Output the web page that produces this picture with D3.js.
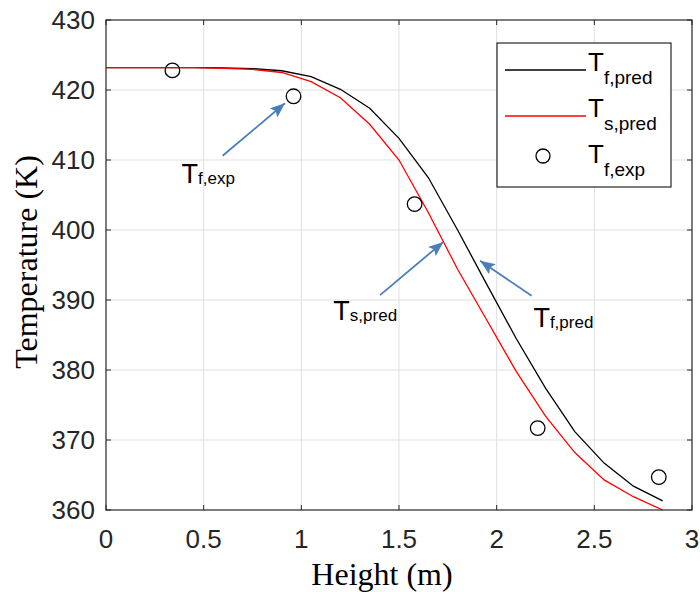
<!DOCTYPE html>
<html>
<head>
<meta charset="utf-8">
<script src="https://cdn.jsdelivr.net/npm/d3@7"></script>
<style>
	body { margin: 0; background: #fff; }
	svg { display: block; }
	.tick-label { font-family: Arial, 'Liberation Sans', sans-serif; font-size: 26px; fill: #262626; }
	.axis-title { font-family: 'Times New Roman', 'Liberation Serif', serif; font-size: 32px; fill: #000; }
	.grid line { stroke: #dfdfdf; stroke-width: 1; }
	.ann text, .legend text { font-family: Arial, 'Liberation Sans', sans-serif; fill: #000; }
</style>
</head>
<body>
<div id="graphic"></div>
<script>

// data
var heights = [0, 0.15, 0.3, 0.45, 0.6, 0.75, 0.9, 1.05, 1.2, 1.35, 1.5, 1.65, 1.8, 1.95, 2.1, 2.25, 2.4, 2.55, 2.7, 2.85];
var tfPred = [423.2, 423.2, 423.2, 423.2, 423.15, 423.05, 422.75, 421.9, 420.1, 417.4, 413.1, 407.5, 400.0, 392.2, 384.5, 377.4, 371.2, 366.7, 363.4, 361.3];
var tsPred = [423.2, 423.2, 423.2, 423.2, 423.1, 422.95, 422.5, 421.2, 418.9, 415.1, 410.0, 402.5, 394.4, 387.1, 379.8, 373.4, 368.2, 364.3, 361.9, 360.0];
var expHeights = [0.34, 0.96, 1.58, 2.21, 2.83];
var tfExp = [422.8, 419.1, 403.7, 371.7, 364.7];

var xTicks = [0, 0.5, 1, 1.5, 2, 2.5, 3];
var yTicks = [360, 370, 380, 390, 400, 410, 420, 430];

var legendItems = [
	{main: 'T', sub: 'f,pred', kind: 'line', color: '#000'},
	{main: 'T', sub: 's,pred', kind: 'line', color: '#ff0000'},
	{main: 'T', sub: 'f,exp', kind: 'circle', color: '#000'}
];

// arrow annotations in data units: tail -> head, plus label position
var arrows = [
	{label: 'f,exp', from: [0.597, 410.6], to: [0.916, 418.1], text: [0.387, 406.7]},
	{label: 's,pred', from: [1.403, 390.7], to: [1.727, 398.3], text: [1.164, 387.1]},
	{label: 'f,pred', from: [2.179, 390.6], to: [1.915, 395.6], text: [2.188, 386.1]}
];

renderGraphic();

function renderGraphic() {

	var width = 700, height = 592;
	var margins = {top: 20, right: 8, bottom: 82, left: 106};
	var chartWidth = width - margins.left - margins.right;
	var chartHeight = height - margins.top - margins.bottom;

	var svg = d3.select('#graphic').append('svg')
		.attr('width', width)
		.attr('height', height);

	var chartElement = svg.append('g')
		.attr('transform', 'translate(' + margins.left + ',' + margins.top + ')');

	var x = d3.scaleLinear().domain([0, 3]).range([0, chartWidth]);
	var y = d3.scaleLinear().domain([360, 430]).range([chartHeight, 0]);

	// 1. grid
	var grid = chartElement.append('g').attr('class', 'grid');
	grid.selectAll('line.gx')
		.data(xTicks.slice(1, -1)).enter()
		.append('line')
		.attr('x1', function(d) { return x(d); })
		.attr('x2', function(d) { return x(d); })
		.attr('y1', 0).attr('y2', chartHeight);
	grid.selectAll('line.gy')
		.data(yTicks.slice(1, -1)).enter()
		.append('line')
		.attr('y1', function(d) { return y(d); })
		.attr('y2', function(d) { return y(d); })
		.attr('x1', 0).attr('x2', chartWidth);

	// 2. lines
	var line = d3.line()
		.x(function(d) { return x(d[0]); })
		.y(function(d) { return y(d[1]); });

	chartElement.append('path')
		.datum(d3.zip(heights, tfPred))
		.attr('d', line)
		.attr('fill', 'none')
		.attr('stroke', '#000')
		.attr('stroke-width', 1.3);

	chartElement.append('path')
		.datum(d3.zip(heights, tsPred))
		.attr('d', line)
		.attr('fill', 'none')
		.attr('stroke', '#ff0000')
		.attr('stroke-width', 1.3);

	chartElement.selectAll('circle.exp')
		.data(d3.zip(expHeights, tfExp)).enter()
		.append('circle')
		.attr('class', 'exp')
		.attr('cx', function(d) { return x(d[0]); })
		.attr('cy', function(d) { return y(d[1]); })
		.attr('r', 7.3)
		.attr('fill', 'none')
		.attr('stroke', '#000')
		.attr('stroke-width', 1.3);

	// 3. axes box, ticks and labels
	var axisColor = '#262626';
	chartElement.append('rect')
		.attr('width', chartWidth)
		.attr('height', chartHeight)
		.attr('fill', 'none')
		.attr('stroke', axisColor)
		.attr('stroke-width', 1.2);

	var tickLen = 5;
	xTicks.forEach(function(t) {
		chartElement.append('line')
			.attr('x1', x(t)).attr('x2', x(t))
			.attr('y1', chartHeight).attr('y2', chartHeight - tickLen)
			.attr('stroke', axisColor);
		chartElement.append('line')
			.attr('x1', x(t)).attr('x2', x(t))
			.attr('y1', 0).attr('y2', tickLen)
			.attr('stroke', axisColor);
	});
	yTicks.forEach(function(t) {
		chartElement.append('line')
			.attr('x1', 0).attr('x2', tickLen)
			.attr('y1', y(t)).attr('y2', y(t))
			.attr('stroke', axisColor);
		chartElement.append('line')
			.attr('x1', chartWidth).attr('x2', chartWidth - tickLen)
			.attr('y1', y(t)).attr('y2', y(t))
			.attr('stroke', axisColor);
	});

	chartElement.selectAll('text.xt')
		.data(xTicks).enter()
		.append('text')
		.attr('class', 'tick-label')
		.attr('x', function(d) { return x(d); })
		.attr('y', chartHeight + 38)
		.attr('text-anchor', 'middle')
		.text(function(d) { return d; });

	chartElement.selectAll('text.yt')
		.data(yTicks).enter()
		.append('text')
		.attr('class', 'tick-label')
		.attr('x', -11)
		.attr('y', function(d) { return y(d); })
		.attr('dy', '0.35em')
		.attr('text-anchor', 'end')
		.text(function(d) { return d; });

	svg.append('text')
		.attr('class', 'axis-title')
		.attr('x', 382)
		.attr('y', 585)
		.attr('text-anchor', 'middle')
		.text('Height (m)');

	svg.append('text')
		.attr('class', 'axis-title')
		.attr('transform', 'translate(37,' + (margins.top + chartHeight / 2 - 3) + ') rotate(-90)')
		.attr('text-anchor', 'middle')
		.text('Temperature (K)');

	// 4. arrows and annotation labels
	var arrowColor = '#4a7ebb';
	svg.append('defs').append('marker')
		.attr('id', 'head')
		.attr('viewBox', '0 0 15 12')
		.attr('refX', 15).attr('refY', 6)
		.attr('markerWidth', 15).attr('markerHeight', 12)
		.attr('markerUnits', 'userSpaceOnUse')
		.attr('orient', 'auto')
		.append('path')
		.attr('d', 'M0,0 L15,6 L0,12 L3,6 Z')
		.attr('fill', arrowColor);

	var ann = chartElement.append('g').attr('class', 'ann');
	ann.selectAll('line')
		.data(arrows).enter()
		.append('line')
		.attr('x1', function(d) { return x(d.from[0]); })
		.attr('y1', function(d) { return y(d.from[1]); })
		.attr('x2', function(d) { return x(d.to[0]); })
		.attr('y2', function(d) { return y(d.to[1]); })
		.attr('stroke', arrowColor)
		.attr('stroke-width', 1.8)
		.attr('marker-end', 'url(#head)');

	var annText = ann.selectAll('text')
		.data(arrows).enter()
		.append('text')
		.attr('x', function(d) { return x(d.text[0]); })
		.attr('y', function(d) { return y(d.text[1]); });
	annText.append('tspan').style('font-size', '27px').text('T');
	annText.append('tspan').style('font-size', '17px').attr('dy', 1)
		.text(function(d) { return d.label; });

	// 5. legend
	var legend = svg.append('g').attr('class', 'legend')
		.attr('transform', 'translate(497,43)');
	legend.append('rect')
		.attr('width', 174).attr('height', 144)
		.attr('fill', '#fff')
		.attr('stroke', axisColor)
		.attr('stroke-width', 1.2);

	var rows = legend.selectAll('g.row')
		.data(legendItems).enter()
		.append('g')
		.attr('class', 'row')
		.attr('transform', function(d, i) { return 'translate(0,' + (27 + i * 46) + ')'; });

	rows.filter(function(d) { return d.kind == 'line'; })
		.append('line')
		.attr('x1', 8).attr('x2', 89)
		.attr('y1', 0).attr('y2', 0)
		.attr('stroke', function(d) { return d.color; })
		.attr('stroke-width', 1.3);
	rows.filter(function(d) { return d.kind == 'circle'; })
		.append('circle')
		.attr('cx', 46).attr('cy', -6)
		.attr('r', 7)
		.attr('fill', 'none')
		.attr('stroke', '#000')
		.attr('stroke-width', 1.3);

	var legText = rows.append('text')
		.attr('x', 91)
		.attr('y', 1);
	legText.append('tspan').style('font-size', '26px').text(function(d) { return d.main; });
	legText.append('tspan').style('font-size', '19px').attr('dy', 13)
		.text(function(d) { return d.sub; });

}

</script>
</body>
</html>
